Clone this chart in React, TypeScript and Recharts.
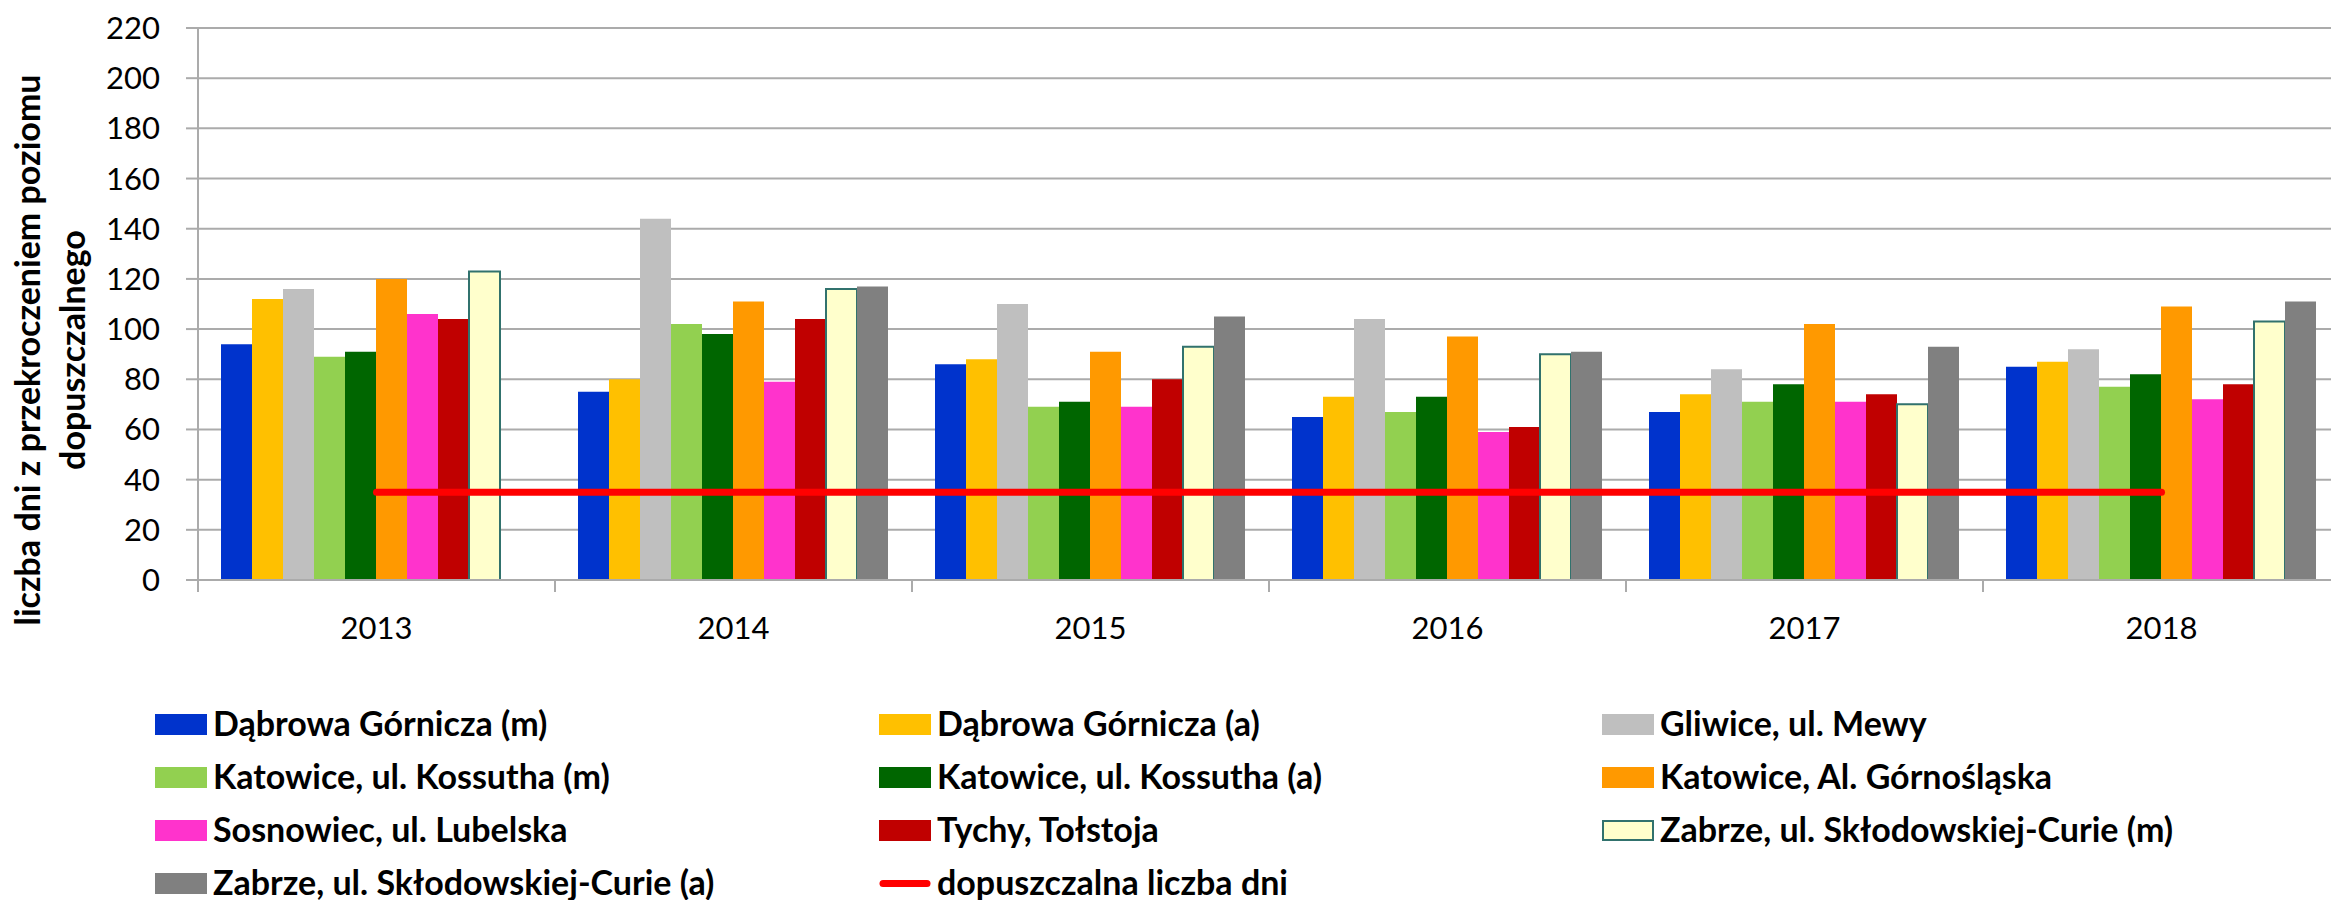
import React from 'react';
import { ComposedChart, Bar, Line, XAxis, YAxis, CartesianGrid, Legend } from 'recharts';

const years = ['2013', '2014', '2015', '2016', '2017', '2018'];
const dabrowaM = [94, 75, 86, 65, 67, 85];
const dabrowaA = [112, 80, 88, 73, 74, 87];
const gliwice = [116, 144, 110, 104, 84, 92];
const kossuthM = [89, 102, 69, 67, 71, 77];
const kossuthA = [91, 98, 71, 73, 78, 82];
const gornoslaska = [120, 111, 91, 97, 102, 109];
const sosnowiec = [106, 79, 69, 59, 71, 72];
const tychy = [104, 104, 80, 61, 74, 78];
const zabrzeM = [123, 116, 93, 90, 70, 103];
const zabrzeA = [null, 117, 105, 91, 93, 111];
const limitDays = [35, 35, 35, 35, 35, 35];
const yTicks = [0, 20, 40, 60, 80, 100, 120, 140, 160, 180, 200, 220];

const seriesNames = [
  'Dąbrowa Górnicza (m)',
  'Dąbrowa Górnicza (a)',
  'Gliwice, ul. Mewy',
  'Katowice, ul. Kossutha (m)',
  'Katowice, ul. Kossutha (a)',
  'Katowice, Al. Górnośląska',
  'Sosnowiec, ul. Lubelska',
  'Tychy, Tołstoja',
  'Zabrze, ul. Skłodowskiej-Curie (m)',
  'Zabrze, ul. Skłodowskiej-Curie (a)',
];
const limitName = 'dopuszczalna liczba dni';
const seriesValues = [dabrowaM, dabrowaA, gliwice, kossuthM, kossuthA, gornoslaska, sosnowiec, tychy, zabrzeM, zabrzeA];
const seriesColors = ['#0033CC', '#FFC000', '#BFBFBF', '#92D050', '#006600', '#FF9900', '#FF33CC', '#C00000', '#FFFFCC', '#808080'];
const seriesStrokes = [null, null, null, null, null, null, null, null, '#31726D', null];

const data = years.map((year, i) => {
  const row: any = { year, limit: limitDays[i] };
  seriesValues.forEach((vals, s) => {
    row['s' + s] = vals[i];
  });
  return row;
});

const FONT = "Lato, 'Open Sans', sans-serif";
const GRID = '#ABABAB';
const CHART_W = 2340;
const CHART_H = 900;
const AXIS_W = 198;
const PLOT_W = CHART_W - AXIS_W;
const HALF_BAND = PLOT_W / years.length / 2;

const XTick = (props: any) => {
  const { x, y, payload } = props;
  return (
    <g>
      <line x1={x - HALF_BAND} x2={x - HALF_BAND} y1={y} y2={y + 12} stroke={GRID} strokeWidth={2} />
      <line x1={x + HALF_BAND} x2={x + HALF_BAND} y1={y} y2={y + 12} stroke={GRID} strokeWidth={2} />
      <text x={x} y={y + 59} textAnchor="middle" fill="#000" fontSize={31} fontFamily={FONT}>
        {payload.value}
      </text>
    </g>
  );
};

const YLabel = (props: any) => {
  const vb = props.viewBox || { x: 0, y: 28, width: 198, height: 552 };
  const cx = vb.x + 40;
  const cy = vb.y + vb.height / 2 + 46;
  return (
    <text
      transform={`rotate(-90 ${cx} ${cy})`}
      textAnchor="middle"
      fill="#000"
      fontSize={34}
      fontWeight="bold"
      fontFamily={FONT}
    >
      <tspan x={cx} y={cy}>liczba dni z przekroczeniem poziomu</tspan>
      <tspan x={cx} y={cy + 45}>dopuszczalnego</tspan>
    </text>
  );
};

const legendCols = [155, 879, 1602];
const legendRowTop = 714 - 690;
const legendRowPitch = 53;

const LegendContent = () => {
  const items = seriesNames.map((name, i) => ({ name, color: seriesColors[i], stroke: seriesStrokes[i], type: 'bar' }));
  items.push({ name: limitName, color: '#FF0000', stroke: null, type: 'line' });
  return (
    <div style={{ position: 'relative', width: CHART_W, height: 210 }}>
      {items.map((it, i) => {
        const col = i % 3;
        const row = Math.floor(i / 3);
        const left = legendCols[col];
        const top = legendRowTop + row * legendRowPitch;
        return (
          <div
            key={it.name}
            style={{
              position: 'absolute',
              left,
              top: top - 16,
              height: 53,
              display: 'flex',
              alignItems: 'center',
              whiteSpace: 'nowrap',
            }}
          >
            <svg width={52} height={53} style={{ display: 'block' }}>
              {it.type === 'bar' ? (
                <rect
                  x={it.stroke ? 1 : 0}
                  y={16 + (it.stroke ? 1 : 0)}
                  width={it.stroke ? 50 : 52}
                  height={it.stroke ? 19 : 21}
                  fill={it.color}
                  stroke={it.stroke || 'none'}
                  strokeWidth={it.stroke ? 2 : 0}
                />
              ) : (
                <line x1={4} x2={48} y1={26.5} y2={26.5} stroke={it.color} strokeWidth={7} strokeLinecap="round" />
              )}
            </svg>
            <span
              style={{
                marginLeft: 6,
                marginTop: -5,
                fontFamily: FONT,
                fontWeight: 'bold',
                fontSize: 34,
                color: '#000',
                lineHeight: '53px',
              }}
            >
              {it.name}
            </span>
          </div>
        );
      })}
    </div>
  );
};

export default function App() {
  return (
    <div
      style={{
        position: 'absolute',
        left: 0,
        top: 0,
        width: 2331,
        height: 900,
        overflow: 'hidden',
        background: '#fff',
      }}
    >
      <ComposedChart
        width={CHART_W}
        height={CHART_H}
        data={data}
        margin={{ top: 28, right: 0, bottom: 240, left: 0 }}
        barCategoryGap={23}
        barGap={0}
      >
        <CartesianGrid horizontal vertical={false} stroke={GRID} strokeWidth={2} />
        <XAxis
          dataKey="year"
          height={80}
          tickLine={false}
          tickSize={0}
          tickMargin={0}
          axisLine={{ stroke: GRID, strokeWidth: 2 }}
          tick={<XTick />}
          interval={0}
        />
        <YAxis
          width={AXIS_W}
          domain={[0, 220]}
          ticks={yTicks}
          interval={0}
          tickSize={12}
          tickMargin={26}
          tickLine={{ stroke: GRID, strokeWidth: 2 }}
          axisLine={{ stroke: GRID, strokeWidth: 2 }}
          tick={{ fill: '#000', fontSize: 31, fontFamily: FONT }}
          label={<YLabel />}
        />
        {seriesNames.map((name, i) => (
          <Bar
            key={name}
            dataKey={'s' + i}
            name={name}
            fill={seriesColors[i]}
            stroke={seriesStrokes[i] || undefined}
            strokeWidth={seriesStrokes[i] ? 2 : 0}
            isAnimationActive={false}
          />
        ))}
        <Line
          dataKey="limit"
          name={limitName}
          stroke="#FF0000"
          strokeWidth={7}
          strokeLinecap="round"
          dot={false}
          activeDot={false}
          legendType="line"
          isAnimationActive={false}
        />
        <Legend
          layout="horizontal"
          verticalAlign="middle"
          align="center"
          wrapperStyle={{ left: 0, top: 690, width: CHART_W, height: 210 }}
          content={<LegendContent />}
        />
      </ComposedChart>
    </div>
  );
}
